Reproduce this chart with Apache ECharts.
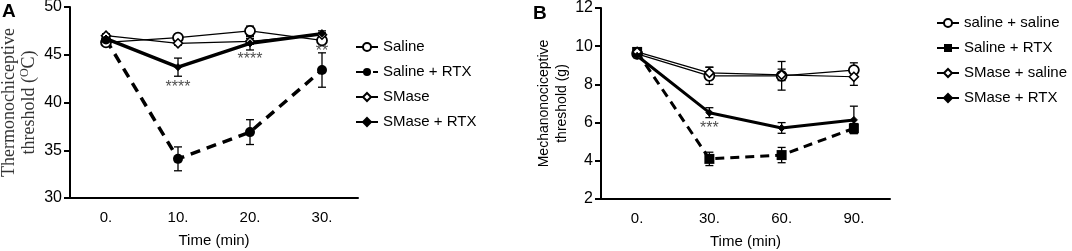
<!DOCTYPE html>
<html>
<head>
<meta charset="utf-8">
<script src="https://cdn.jsdelivr.net/npm/echarts@6/dist/echarts.min.js"></script>
<style>
  html, body { margin: 0; padding: 0; background: #fff; }
  #main { width: 1072px; height: 251px; }
</style>
</head>
<body>
<div id="main"></div>
<script>
  // panel A: thermal threshold
  const timesA = ['0.', '10.', '20.', '30.']
  const salineA = [46.3, 46.8, 47.5, 46.5]
  const salineErrA = [0.3, 0.3, 0.5, 0.3]
  const salineRtxA = [46.6, 34.1, 36.9, 43.4]
  const salineRtxErrA = [0.3, 1.25, 1.3, 1.8]
  const smaseA = [47.0, 46.2, 46.4, 47.1]
  const smaseErrA = [0.2, 0.2, 0.3, 0.2]
  const smaseRtxA = [46.7, 43.7, 46.2, 47.2]
  const smaseRtxErrA = [0.3, 0.95, 0.7, 0.3]
  const starsA = [[1, 41.6, '****'], [2, 44.5, '****'], [3, 45.3, '**']]

  // panel B: mechanical threshold
  const timesB = ['0.', '30.', '60.', '90.']
  const salineB = [9.6, 8.45, 8.45, 8.75]
  const salineErrB = [0.1, 0.45, 0.75, 0.38]
  const salineRtxB = [9.7, 4.1, 4.3, 5.7]
  const salineRtxErrB = [0.1, 0.35, 0.4, 0.25]
  const smaseB = [9.7, 8.6, 8.5, 8.4]
  const smaseErrB = [0.1, 0.3, 0.3, 0.45]
  const smaseRtxB = [9.5, 6.52, 5.72, 6.14]
  const smaseRtxErrB = [0.1, 0.26, 0.28, 0.72]
  const starsB = [[1, 5.7, '***']]

  const sans = 'Liberation Sans, Arial, sans-serif'
  const serif = 'Liberation Serif, Times New Roman, serif'

  // error bar with caps
  function errRender (params, api) {
    const x = api.value(0)
    const y = api.value(1)
    const e = api.value(2)
    const top = api.coord([x, y + e])
    const bot = api.coord([x, y - e])
    const w = 4
    const st = { stroke: '#000', lineWidth: 1.3 }
    return {
      type: 'group',
      children: [
        { type: 'line', shape: { x1: top[0], y1: top[1], x2: bot[0], y2: bot[1] }, style: st },
        { type: 'line', shape: { x1: top[0] - w, y1: top[1], x2: top[0] + w, y2: top[1] }, style: st },
        { type: 'line', shape: { x1: bot[0] - w, y1: bot[1], x2: bot[0] + w, y2: bot[1] }, style: st }
      ]
    }
  }

  function errSeries (vals, errs, idx) {
    return {
      type: 'custom',
      xAxisIndex: idx,
      yAxisIndex: idx,
      renderItem: errRender,
      data: vals.map((v, i) => [i, v, errs[i]]),
      z: 1,
      silent: true
    }
  }

  function lineSeries (name, vals, idx, opt) {
    return Object.assign({
      name: name,
      type: 'line',
      xAxisIndex: idx,
      yAxisIndex: idx,
      data: vals,
      z: 3,
      animation: false
    }, opt)
  }

  function starSeries (pts, idx) {
    return {
      type: 'scatter',
      xAxisIndex: idx,
      yAxisIndex: idx,
      symbolSize: 0,
      data: pts,
      label: {
        show: true,
        position: 'inside',
        formatter: p => p.data[2],
        color: '#222',
        fontSize: 16,
        fontFamily: sans
      },
      z: 4,
      silent: true
    }
  }

  const thin = { lineStyle: { color: '#000', width: 1.2 } }
  const openCircle = { symbol: 'circle', symbolSize: 10, itemStyle: { color: '#fff', borderColor: '#000', borderWidth: 1.8 } }
  const openDiamond = { symbol: 'diamond', symbolSize: 9, itemStyle: { color: '#fff', borderColor: '#000', borderWidth: 1.6 } }
  const smallDiamond = { symbol: 'diamond', symbolSize: 7, itemStyle: { color: '#000', borderColor: '#000', borderWidth: 1 } }

  function xAxisOpt (data, idx) {
    return {
      type: 'category',
      gridIndex: idx,
      data: data,
      boundaryGap: true,
      name: 'Time (min)',
      nameLocation: 'middle',
      nameGap: 35,
      nameTextStyle: { fontFamily: sans, fontSize: 15, color: '#000' },
      axisLine: { lineStyle: { color: '#000', width: 2 } },
      axisTick: { alignWithLabel: true, length: 6, lineStyle: { color: '#000', width: 2 } },
      axisLabel: { fontFamily: sans, fontSize: 15, color: '#000', margin: 12 },
      splitLine: { show: false }
    }
  }

  function yAxisOpt (idx, min, max, interval, nameOpt) {
    return Object.assign({
      type: 'value',
      gridIndex: idx,
      min: min,
      max: max,
      interval: interval,
      nameLocation: 'middle',
      nameRotate: 90,
      axisLine: { show: true, lineStyle: { color: '#000', width: 2 } },
      axisTick: { show: true, length: 6, lineStyle: { color: '#000', width: 2 } },
      axisLabel: { fontFamily: sans, fontSize: 16, color: '#000', margin: 8 },
      splitLine: { show: false }
    }, nameOpt)
  }

  const chart = echarts.init(document.getElementById('main'))
  chart.setOption({
    animation: false,
    backgroundColor: '#fff',
    graphic: [
      { type: 'text', left: 2, top: 2, style: { text: 'A', fontFamily: sans, fontWeight: 'bold', fontSize: 19, fill: '#000' } },
      { type: 'text', left: 533, top: 4, style: { text: 'B', fontFamily: sans, fontWeight: 'bold', fontSize: 19, fill: '#000' } }
    ],
    grid: [
      { left: 70, top: 7, width: 288, height: 191, outerBoundsMode: 'none', containLabel: false },
      { left: 601, top: 8, width: 289, height: 191, outerBoundsMode: 'none', containLabel: false }
    ],
    xAxis: [xAxisOpt(timesA, 0), xAxisOpt(timesB, 1)],
    yAxis: [
      yAxisOpt(0, 30, 50, 5, {
        name: '{t|Thermonochiceptive}\n{t|threshold (}{s|O}{t|C)}',
        nameGap: 31,
        nameTextStyle: {
          rich: {
            t: { fontFamily: serif, fontSize: 18, color: '#333', lineHeight: 20 },
            s: { fontFamily: serif, fontSize: 12, color: '#333', verticalAlign: 'top', lineHeight: 20 }
          }
        }
      }),
      yAxisOpt(1, 2, 12, 2, {
        name: 'Mechanonociceptive\nthreshold (g)',
        nameGap: 29,
        nameTextStyle: { fontFamily: sans, fontSize: 14, color: '#000', lineHeight: 18 }
      })
    ],
    legend: [
      {
        orient: 'vertical',
        left: 350,
        top: 33,
        itemWidth: 22,
        itemHeight: 10,
        itemGap: 7,
        textStyle: { fontFamily: sans, fontSize: 15, color: '#000', lineHeight: 18 },
        data: ['Saline', 'Saline + RTX', 'SMase', 'SMase + RTX']
      },
      {
        orient: 'vertical',
        left: 931,
        top: 9,
        itemWidth: 22,
        itemHeight: 10,
        itemGap: 7,
        textStyle: { fontFamily: sans, fontSize: 15, color: '#000', lineHeight: 18 },
        data: ['saline + saline', 'Saline + RTX ', 'SMase + saline', 'SMase + RTX ']
      }
    ],
    series: [
      errSeries(salineA, salineErrA, 0),
      errSeries(salineRtxA, salineRtxErrA, 0),
      errSeries(smaseA, smaseErrA, 0),
      errSeries(smaseRtxA, smaseRtxErrA, 0),
      lineSeries('Saline', salineA, 0, Object.assign({}, thin, openCircle)),
      lineSeries('Saline + RTX', salineRtxA, 0, {
        symbol: 'circle', symbolSize: 10, itemStyle: { color: '#000' },
        lineStyle: { color: '#000', width: 3.5, type: [10, 7] }
      }),
      lineSeries('SMase', smaseA, 0, Object.assign({}, thin, openDiamond)),
      lineSeries('SMase + RTX', smaseRtxA, 0, Object.assign({ lineStyle: { color: '#000', width: 3.5 } }, smallDiamond)),
      starSeries(starsA, 0),

      errSeries(salineB, salineErrB, 1),
      errSeries(salineRtxB, salineRtxErrB, 1),
      errSeries(smaseB, smaseErrB, 1),
      errSeries(smaseRtxB, smaseRtxErrB, 1),
      lineSeries('saline + saline', salineB, 1, Object.assign({}, thin, openCircle)),
      lineSeries('Saline + RTX ', salineRtxB, 1, {
        symbol: 'rect', symbolSize: 10, itemStyle: { color: '#000' },
        lineStyle: { color: '#000', width: 3, type: [9, 6] }
      }),
      lineSeries('SMase + saline', smaseB, 1, Object.assign({}, thin, openDiamond)),
      lineSeries('SMase + RTX ', smaseRtxB, 1, Object.assign({ lineStyle: { color: '#000', width: 3 } }, smallDiamond)),
      starSeries(starsB, 1)
    ]
  })
</script>
</body>
</html>
